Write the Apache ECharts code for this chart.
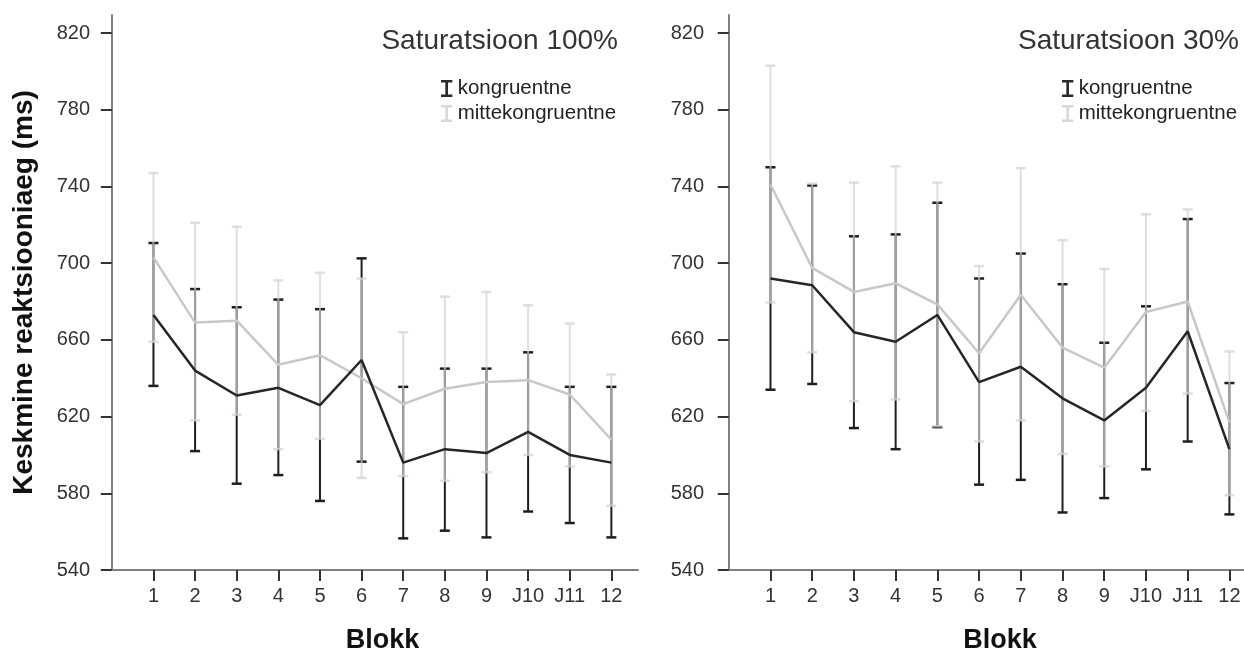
<!DOCTYPE html>
<html>
<head>
<meta charset="utf-8">
<script src="https://cdn.jsdelivr.net/npm/echarts@6/dist/echarts.min.js"></script>
<style>
html,body{margin:0;padding:0;background:#fff;}
#chart{width:1244px;height:655px;}
</style>
</head>
<body>
<div id="chart"></div>
<script>
const categories = ['1','2','3','4','5','6','7','8','9','J10','J11','12'];
const yTicks = [540,580,620,660,700,740,780,820];
const seriesNames = ['kongruentne','mittekongruentne'];
const panelTitles = ['Saturatsioon 100%','Saturatsioon 30%'];

// Saturatsioon 100%
const kong100Mean = [673, 644, 631, 635, 626, 649.5, 596, 603, 601, 612, 600, 596];
const kong100Lo   = [636, 602, 585, 589.5, 576, 596.5, 556.5, 560.5, 557, 570.5, 564.5, 557];
const kong100Hi   = [710.5, 686.5, 677, 681, 676, 702.5, 635.5, 645, 645, 653.5, 635.5, 635.5];
const mitte100Mean = [703, 669, 670, 647, 652, 640, 626.5, 634.5, 638, 639, 631.5, 608];
const mitte100Lo   = [659, 618, 621, 603, 608.5, 588, 589, 586.5, 591, 600, 594, 573.5];
const mitte100Hi   = [747, 721, 719, 691, 695, 692, 664, 682.5, 685, 678, 668.5, 642];

// Saturatsioon 30%
const kong30Mean = [692, 688.5, 664, 659, 673, 638, 646, 629.5, 618, 635, 664.5, 603];
const kong30Lo   = [634, 637, 614, 603, 614.5, 584.5, 587, 570, 577.5, 592.5, 607, 569];
const kong30Hi   = [750, 740.5, 714, 715, 731.5, 692, 705, 689, 658.5, 677.5, 723, 637.5];
const mitte30Mean = [741, 697.5, 685, 689.5, 678.5, 653, 683.5, 656, 645.5, 674.5, 680, 617];
const mitte30Lo   = [679.5, 653.5, 628, 629, 615, 607, 618, 600.5, 594, 623, 632, 579];
const mitte30Hi   = [803, 741.5, 742, 750.5, 742, 698.5, 749.5, 712, 697, 725.5, 728, 654];

const FONT = 'Liberation Sans, Arial, sans-serif';
const DARK = '#262626';
const DARK_BAR = '#1e1e1e';
const LIGHT = '#c8c8c8';
const LIGHT_BAR = '#d2d2d2';
const tickPos = categories.map((c, i) => i + 1);

function ebData(lo, hi) { return lo.map((v, i) => [i + 1, v, hi[i]]); }
function lineData(m) { return m.map((v, i) => [i + 1, v]); }

function errorBarSeries(name, lo, hi, idx, color, opacity, z) {
  return {
    type: 'custom', name: name, xAxisIndex: idx, yAxisIndex: idx, z: z,
    itemStyle: { color: color },
    encode: { x: 0, y: [1, 2] },
    data: ebData(lo, hi),
    renderItem: function (params, api) {
      const x = api.value(0);
      const pLo = api.coord([x, api.value(1)]);
      const pHi = api.coord([x, api.value(2)]);
      const w = 5;
      const st = { stroke: color, lineWidth: 2, opacity: opacity };
      return {
        type: 'group',
        children: [
          { type: 'line', shape: { x1: pLo[0], y1: pLo[1], x2: pHi[0], y2: pHi[1] }, style: st },
          { type: 'line', shape: { x1: pLo[0] - w, y1: pLo[1], x2: pLo[0] + w, y2: pLo[1] }, style: Object.assign({}, st, { lineWidth: 2.5 }) },
          { type: 'line', shape: { x1: pHi[0] - w, y1: pHi[1], x2: pHi[0] + w, y2: pHi[1] }, style: Object.assign({}, st, { lineWidth: 2.5 }) }
        ]
      };
    }
  };
}

function lineSeries(name, m, idx, color, z) {
  return {
    type: 'line', name: name, xAxisIndex: idx, yAxisIndex: idx, z: z,
    data: lineData(m), symbol: 'none', showSymbol: false,
    itemStyle: { color: color },
    lineStyle: { color: color, width: 2.5 },
    emphasis: { disabled: true }, animation: false
  };
}

const xRanges = [[-0.14, 12.64], [-0.21, 12.35]];
function xAxisDef(idx) {
  return {
    type: 'value', gridIndex: idx, min: xRanges[idx][0], max: xRanges[idx][1],
    axisLine: { show: true, onZero: false, lineStyle: { color: '#808080', width: 2 } },
    axisTick: { show: true, customValues: tickPos, length: 11, lineStyle: { color: '#333', width: 2 } },
    axisLabel: {
      customValues: tickPos, margin: 16, fontSize: 20, fontFamily: FONT, color: '#333',
      formatter: function (v) { return categories[Math.round(v) - 1] || ''; }
    },
    splitLine: { show: false }
  };
}
function yAxisDef(idx) {
  return {
    type: 'value', gridIndex: idx, min: 540, max: 829.4,
    name: idx === 0 ? 'Keskmine reaktsiooniaeg (ms)' : '',
    nameLocation: 'middle', nameGap: 68,
    nameTextStyle: { fontSize: 28, fontWeight: 'bold', fontFamily: FONT, color: '#111' },
    axisLine: { show: true, lineStyle: { color: '#808080', width: 2 } },
    axisTick: { show: true, customValues: yTicks, length: 11, lineStyle: { color: '#333', width: 2 } },
    axisLabel: { customValues: yTicks, margin: 16, fontSize: 20, fontFamily: FONT, color: '#333' },
    splitLine: { show: false }
  };
}

const iconI = 'path://M0,0H12V2.6H7.4V15.4H12V18H0V15.4H4.6V2.6H0Z';
function legendDef(left) {
  return {
    orient: 'vertical', left: left, top: 73, itemGap: 4, itemWidth: 12, itemHeight: 17,
    icon: iconI, selectedMode: false,
    textStyle: { fontSize: 20.5, fontFamily: FONT, color: '#222', padding: [0, 0, 0, 0] },
    data: [
      { name: seriesNames[0], itemStyle: { color: '#2a2a2a' } },
      { name: seriesNames[1], itemStyle: { color: '#d8d8d8' } }
    ]
  };
}

const chart = echarts.init(document.getElementById('chart'), null, { renderer: 'canvas' });
chart.setOption({
  animation: false,
  backgroundColor: '#fff',
  title: [
    { text: panelTitles[0], right: 626, top: 27, padding: 0,
      textStyle: { fontSize: 28, fontWeight: 'normal', fontFamily: FONT, color: '#333' } },
    { text: panelTitles[1], right: 5, top: 27, padding: 0,
      textStyle: { fontSize: 28, fontWeight: 'normal', fontFamily: FONT, color: '#333' } }
  ],
  legend: [legendDef(436), legendDef(1057)],
  grid: [
    { left: 106, right: 606, top: 15, bottom: 85, containLabel: false, outerBoundsMode: 'none' },
    { left: 720, right: 0, top: 15, bottom: 85, containLabel: false, outerBoundsMode: 'none' }
  ],
  xAxis: [xAxisDef(0), xAxisDef(1)],
  yAxis: [yAxisDef(0), yAxisDef(1)],
  graphic: [
    { type: 'text', x: 382.6, y: 641, style: { text: 'Blokk', textAlign: 'center', textVerticalAlign: 'middle', font: 'bold 27px ' + FONT, fill: '#111' } },
    { type: 'text', x: 1000, y: 641, style: { text: 'Blokk', textAlign: 'center', textVerticalAlign: 'middle', font: 'bold 27px ' + FONT, fill: '#111' } }
  ],
  series: [
    errorBarSeries(seriesNames[0], kong100Lo, kong100Hi, 0, DARK_BAR, 1, 2),
    errorBarSeries(seriesNames[1], mitte100Lo, mitte100Hi, 0, LIGHT_BAR, 0.72, 3),
    lineSeries(seriesNames[1], mitte100Mean, 0, LIGHT, 4),
    lineSeries(seriesNames[0], kong100Mean, 0, DARK, 5),
    errorBarSeries(seriesNames[0], kong30Lo, kong30Hi, 1, DARK_BAR, 1, 2),
    errorBarSeries(seriesNames[1], mitte30Lo, mitte30Hi, 1, LIGHT_BAR, 0.72, 3),
    lineSeries(seriesNames[1], mitte30Mean, 1, LIGHT, 4),
    lineSeries(seriesNames[0], kong30Mean, 1, DARK, 5)
  ]
});
</script>
</body>
</html>
